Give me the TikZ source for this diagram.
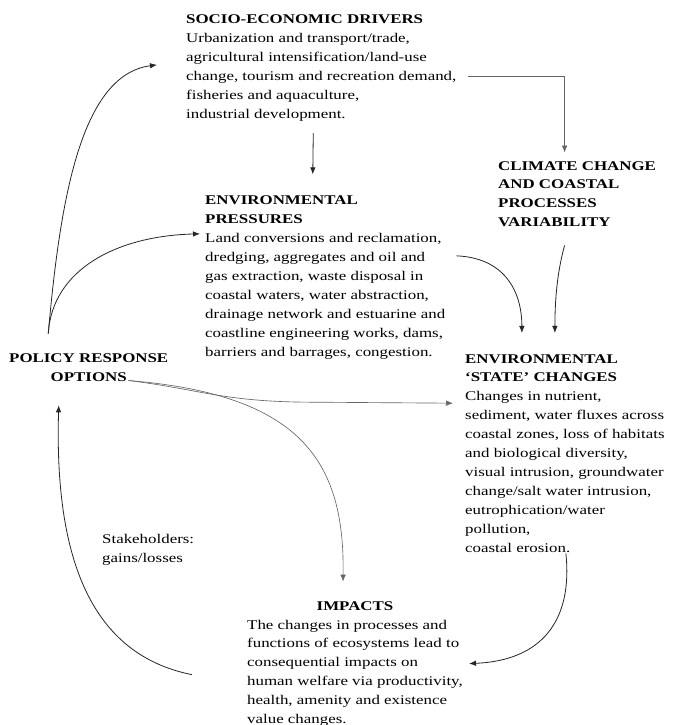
\documentclass[tikz,border=0pt]{standalone}
\usepackage{fontspec}
\setmainfont{Liberation Serif}[FakeStretch=1.27]
\usetikzlibrary{arrows.meta}
\begin{document}
\begin{tikzpicture}[x=1bp,y=-1bp,
  txt/.style={font=\fontsize{13.3bp}{18.9bp}\selectfont, align=left, inner sep=0pt, anchor=base west},
  btxt/.style={txt, font=\fontsize{13.3bp}{18.9bp}\selectfont\bfseries},
  conn/.style={line width=0.8bp, draw=black!85, -{Latex[length=7bp,width=5.5bp]}},
  faint/.style={conn, line width=0.65bp, draw=black!60}]
\useasboundingbox[fill=white] (0,0) rectangle (683,725);

% anchor "base" of a multi-line node = baseline of its last line
\node[txt] (socio) at (186,118.5) {\textbf{SOCIO-ECONOMIC DRIVERS}\\Urbanization and transport/trade,\\agricultural intensification/land-use\\change, tourism and recreation demand,\\fisheries and aquaculture,\\industrial development.};

\node[txt] (press) at (205,356) {\textbf{ENVIRONMENTAL}\\\textbf{PRESSURES}\\Land conversions and reclamation,\\dredging, aggregates and oil and\\gas extraction, waste disposal in\\coastal waters, water abstraction,\\drainage network and estuarine and\\coastline engineering works, dams,\\barriers and barrages, congestion.};

\node[btxt] (clim) at (498,226.7) {CLIMATE CHANGE\\AND COASTAL\\PROCESSES\\VARIABILITY};

\node[btxt, align=center] (policy) at (9,381) {POLICY RESPONSE\\OPTIONS};

\node[txt] (state) at (465,552) {\textbf{ENVIRONMENTAL}\\\textbf{‘STATE’ CHANGES}\\Changes in nutrient,\\sediment, water fluxes across\\coastal zones, loss of habitats\\and biological diversity,\\visual intrusion, groundwater\\change/salt water intrusion,\\eutrophication/water\\pollution,\\coastal erosion.};

\node[txt] (stake) at (102,562) {Stakeholders:\\gains/losses};

\node[btxt, anchor=base] (impt) at (355,610) {IMPACTS};
\node[txt] (imp) at (247,723.5) {The changes in processes and\\functions of ecosystems lead to\\consequential impacts on\\human welfare via productivity,\\health, amenity and existence\\value changes.};

% connectors
\draw[faint] ([shift={(11,7.6)}]socio.east) -| ([shift={(-12.5,-8.4)}]clim.north);
\draw[conn] ([shift={(-8,11.7)}]socio.south) -- ([shift={(-12.5,-21.4)}]press.north);
\draw[conn] ([shift={(-40.5,-19.4)}]policy.north) .. controls +(12,-135) and +(-76,10) .. ([shift={(-29,-3.4)}]socio.west);
\draw[conn] ([shift={(-40.5,-19.4)}]policy.north) .. controls +(4,-65) and +(-82,2) .. ([shift={(-5,-43.6)}]press.west);
\draw[conn] ([shift={(11,-21.6)}]press.east) .. controls +(47,2) and +(0,-43) .. ([shift={(-43,-21)}]state.north);
\draw[conn] ([shift={(-12.5,18.3)}]clim.south) .. controls +(-7,25) and +(0,-35) .. ([shift={(-10,-21)}]state.north);
\draw[faint] ([shift={(-40,13.3)}]policy.east) .. controls +(73,9) and +(-92,0) .. ([shift={(-150,-51)}]state.west) -- ([shift={(-12,-50)}]state.west);
\draw[faint] ([shift={(-40,13.3)}]policy.east) .. controls +(171,14) and +(2,-122) .. ([shift={(-12,-19.4)}]impt.north);
\draw[conn] ([shift={(1,1)}]state.south) .. controls +(7,67) and +(73,-3) .. ([shift={(6,-9.5)}]imp.east);
\draw[conn] ([shift={(-55,1.6)}]imp.west) .. controls +(-100,-20) and +(-4.5,155) .. ([shift={(-30,24)}]policy.south);
\end{tikzpicture}
\end{document}
